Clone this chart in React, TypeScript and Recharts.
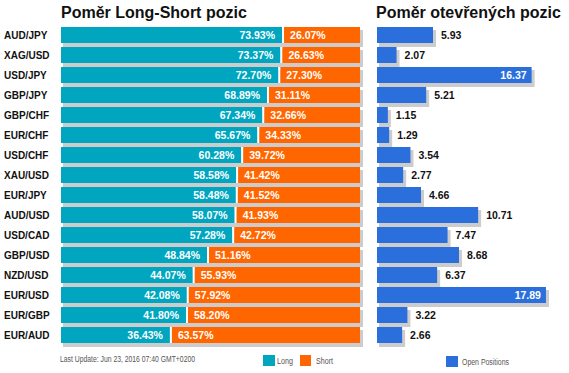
import { BarChart, Bar, XAxis, YAxis, LabelList } from 'recharts';

const pairs = ['AUD/JPY', 'XAG/USD', 'USD/JPY', 'GBP/JPY', 'GBP/CHF', 'EUR/CHF', 'USD/CHF', 'XAU/USD', 'EUR/JPY', 'AUD/USD', 'USD/CAD', 'GBP/USD', 'NZD/USD', 'EUR/USD', 'EUR/GBP', 'EUR/AUD'];
const longPct = [73.93, 73.37, 72.7, 68.89, 67.34, 65.67, 60.28, 58.58, 58.48, 58.07, 57.28, 48.84, 44.07, 42.08, 41.8, 36.43];
const shortPct = [26.07, 26.63, 27.3, 31.11, 32.66, 34.33, 39.72, 41.42, 41.52, 41.93, 42.72, 51.16, 55.93, 57.92, 58.2, 63.57];
const openPositions = [5.93, 2.07, 16.37, 5.21, 1.15, 1.29, 3.54, 2.77, 4.66, 10.71, 7.47, 8.68, 6.37, 17.89, 3.22, 2.66];

const data = pairs.map((pair, i) => ({
  pair,
  long: longPct[i],
  short: shortPct[i],
  open: openPositions[i],
}));

const FONT = 'Arial, "Liberation Sans", sans-serif';
const LONG = '#00a6c0';
const SHORT = '#ff6600';
const OPEN = '#2a6fdb';
const SHADOW = '#cccccc';

const shadowBar = (gap: number) => (props: any) => {
  const { x, y, width, height, fill } = props;
  return (
    <g>
      <rect x={x + 2} y={y + 3} width={width + 1} height={height + 1} fill={SHADOW} />
      {gap > 0 && <rect x={x} y={y} width={gap} height={height} fill="#fff" />}
      <rect x={x + gap} y={y} width={Math.max(width - gap, 0)} height={height} fill={fill} />
    </g>
  );
};

const longLabel = (props: any) => {
  const { x, y, width, height, value } = props;
  return (
    <text x={x + width - 7} y={y + height / 2 + 4} textAnchor="end" fill="#fff" fontSize={10.5} fontWeight="bold" fontFamily={FONT}>
      {value.toFixed(2)}%
    </text>
  );
};

const shortLabel = (props: any) => {
  const { x, y, height, value } = props;
  return (
    <text x={x + 8} y={y + height / 2 + 4} textAnchor="start" fill="#fff" fontSize={10.5} fontWeight="bold" fontFamily={FONT}>
      {value.toFixed(2)}%
    </text>
  );
};

const openLabel = (props: any) => {
  const { x, y, width, height, value } = props;
  const inside = value > 15;
  return (
    <text
      x={inside ? x + width - 5 : x + width + 8}
      y={y + height / 2 + 4}
      textAnchor={inside ? 'end' : 'start'}
      fill={inside ? '#fff' : '#111'}
      fontSize={10.5}
      fontWeight="bold"
      fontFamily={FONT}
    >
      {value.toFixed(2)}
    </text>
  );
};

const PairTick = (props: any) => {
  const { y, payload } = props;
  return (
    <text x={4} y={y + 3.5} textAnchor="start" fill="#111" fontSize={10} fontWeight="bold" fontFamily={FONT}>
      {payload.value}
    </text>
  );
};

const titleStyle: React.CSSProperties = {
  position: 'absolute',
  top: 3,
  fontFamily: FONT,
  fontWeight: 'bold',
  fontSize: 16,
  lineHeight: '20px',
  color: '#111',
  whiteSpace: 'nowrap',
};

export default function App() {
  return (
    <div style={{ position: 'absolute', left: 0, top: 0, width: 569, height: 373, background: '#fff', overflow: 'hidden' }}>
      <div style={{ ...titleStyle, left: 61 }}>Poměr Long-Short pozic</div>
      <div style={{ ...titleStyle, left: 376 }}>Poměr otevřených pozic</div>

      <div style={{ position: 'absolute', left: 0, top: 0 }}>
        <BarChart width={370} height={373} data={data} layout="vertical" barCategoryGap="10%" margin={{ top: 25, right: 10, bottom: 28, left: 0 }}>
          <XAxis type="number" domain={[0, 100]} hide />
          <YAxis type="category" dataKey="pair" width={61} axisLine={false} tickLine={false} tick={<PairTick />} interval={0} />
          <Bar dataKey="long" stackId="ls" fill={LONG} shape={shadowBar(0)} isAnimationActive={false}>
            <LabelList dataKey="long" content={longLabel} />
          </Bar>
          <Bar dataKey="short" stackId="ls" fill={SHORT} shape={shadowBar(2)} isAnimationActive={false}>
            <LabelList dataKey="short" content={shortLabel} />
          </Bar>
        </BarChart>
      </div>

      <div style={{ position: 'absolute', left: 377, top: 0 }}>
        <BarChart width={192} height={373} data={data} layout="vertical" barCategoryGap="10%" margin={{ top: 25, right: 22, bottom: 28, left: 0 }}>
          <XAxis type="number" domain={[0, 18]} hide />
          <YAxis type="category" dataKey="pair" hide />
          <Bar dataKey="open" fill={OPEN} shape={shadowBar(0)} isAnimationActive={false}>
            <LabelList dataKey="open" content={openLabel} />
          </Bar>
        </BarChart>
      </div>

      <svg width={569} height={373} style={{ position: 'absolute', left: 0, top: 0, pointerEvents: 'none' }}>
        <text x={60} y={362} fontSize={8.5} fill="#555" fontFamily={FONT} textLength={135} lengthAdjust="spacingAndGlyphs">
          Last Update: Jun 23, 2016 07:40 GMT+0200
        </text>
        <rect x={263} y={355} width={12} height={11} fill={LONG} />
        <text x={277} y={364} fontSize={8.5} fill="#555" fontFamily={FONT} textLength={16} lengthAdjust="spacingAndGlyphs">Long</text>
        <rect x={300} y={355} width={11} height={11} fill={SHORT} />
        <text x={316} y={364} fontSize={8.5} fill="#555" fontFamily={FONT} textLength={17} lengthAdjust="spacingAndGlyphs">Short</text>
        <rect x={446} y={356} width={12} height={11} fill={OPEN} />
        <text x={462} y={365} fontSize={8.5} fill="#555" fontFamily={FONT} textLength={47} lengthAdjust="spacingAndGlyphs">Open Positions</text>
      </svg>
    </div>
  );
}
